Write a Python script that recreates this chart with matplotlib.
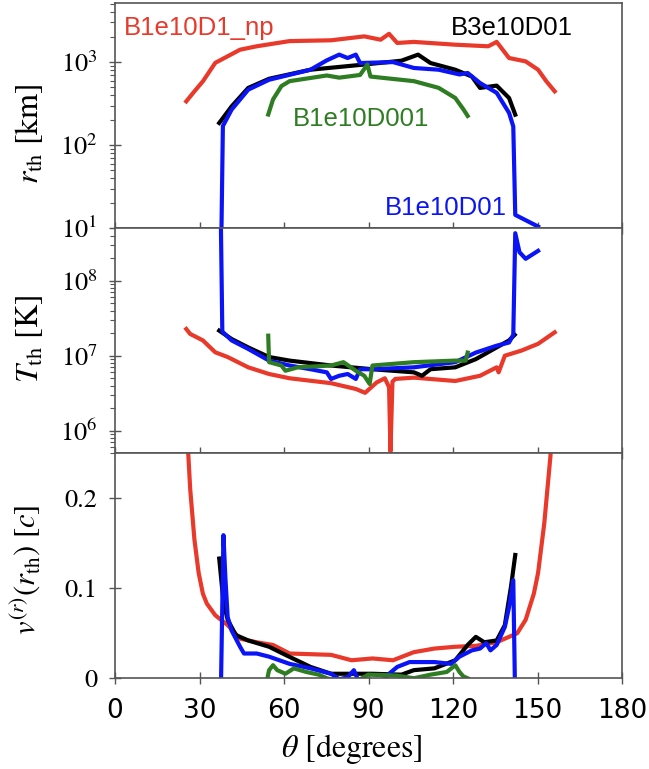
import matplotlib
matplotlib.use("Agg")
import matplotlib.pyplot as plt

# colours of the four runs
c_red = "#e8392b"
c_black = "#000000"
c_blue = "#0a14f5"
c_green = "#2e7d22"

# ---- r_th [km] ----
th_red_r = [25.3, 28.2, 31.2, 35.6, 40.0, 44.4, 50.3, 62.0, 76.7, 88.5, 94.3, 97.3,
            100.2, 106.1, 120.8, 132.5, 135.5, 139.9, 145.8, 150.2, 153.1, 156.1]
r_red = [337, 445, 587, 980, 1175, 1410, 1550, 1790, 1830, 2040, 1860, 2190,
         1700, 1750, 1620, 1550, 1750, 1120, 1020, 810, 590, 445]

th_black_r = [37.0, 41.4, 47.3, 54.7, 69.4, 88.5, 101.7, 107.6, 112.0, 120.8,
              126.7, 129.6, 135.5, 139.9, 142.1]
r_black = [185, 293, 489, 630, 810, 935, 1040, 1230, 975, 810,
           670, 489, 521, 370, 233]

th_blue_r = [37.4, 38.3, 41.4, 47.3, 54.7, 69.4, 75.2, 79.6, 82.6, 85.5, 87.0,
             98.7, 106.1, 114.9, 122.3, 125.2, 129.6, 135.5, 139.9, 141.4,
             142.1, 150.2]
r_blue = [1.0, 170, 268, 466, 613, 810, 1050, 1230, 1120, 1230, 975,
          1000, 850, 810, 710, 740, 560, 427, 245, 168,
          14.5, 10.5]

th_green_r = [54.4, 56.1, 59.1, 62.0, 75.2, 79.6, 87.0, 89.6, 90.7, 106.1,
              114.9, 120.8, 123.7, 125.2]
r_green = [234, 355, 515, 590, 690, 650, 700, 935, 670, 590,
           490, 370, 270, 225]

# ---- T_th [K] ----
th_red_T = [25.3, 26.7, 31.2, 35.6, 40.0, 47.3, 54.7, 62.0, 76.7, 85.5, 88.8,
            92.9, 95.8, 97.3, 97.8, 98.5, 99.5, 106.1, 120.8, 129.6, 135.5,
            136.2, 138.4, 144.3, 150.2, 156.1]
T_red = [2.27e7, 1.95e7, 1.6e7, 1.11e7, 9.6e6, 7.0e6, 5.7e6, 5.0e6, 4.3e6,
         3.6e6, 3.2e6, 4.4e6, 5.0e6, 3.8e6, 5.3e5, 4.5e6, 4.9e6, 5.1e6, 4.6e6,
         5.4e6, 7.0e6, 6.0e6, 1.0e7, 1.17e7, 1.44e7, 2.05e7]

th_black_T = [37.0, 41.4, 47.3, 54.7, 62.0, 76.7, 91.4, 106.1, 109.0, 112.0,
              120.8, 128.1, 135.5, 139.9, 141.9]
T_black = [2.16e7, 1.67e7, 1.29e7, 9.6e6, 8.6e6, 7.4e6, 6.6e6, 6.0e6, 5.4e6,
           6.6e6, 7.0e6, 9.0e6, 1.29e7, 1.6e7, 1.9e7]

th_blue_T = [37.4, 38.1, 41.4, 47.3, 54.7, 62.0, 69.4, 75.2, 76.7, 79.6, 82.6,
             85.5, 87.0, 91.4, 106.1, 120.8, 128.1, 135.5, 139.9, 141.4, 142.1,
             143.6, 145.8, 150.2]
T_blue = [2e9, 2.1e7, 1.6e7, 1.23e7, 8.6e6, 7.4e6, 6.6e6, 6.0e6, 4.9e6, 5.4e6,
          5.7e6, 4.9e6, 6.6e6, 6.6e6, 7.0e6, 8.2e6, 1.1e7, 1.36e7, 1.5e7,
          1.9e7, 4.3e8, 2.4e8, 1.96e8, 2.5e8]

th_green_T = [54.4, 54.7, 59.1, 60.5, 64.9, 76.7, 81.1, 85.5, 88.5, 90.4, 91.4,
              106.1, 120.8, 124.5, 125.2]
T_green = [1.85e7, 8.2e6, 7.4e6, 6.3e6, 7.0e6, 7.4e6, 8.2e6, 6.3e6, 5.4e6,
           4.2e6, 7.4e6, 8.2e6, 8.6e6, 8.6e6, 1.1e7]

# ---- v^(r)(r_th) [c] ----
th_red_v = [25.3, 26.0, 26.7, 28.2, 29.7, 31.2, 32.6, 35.6, 40.0, 44.4, 50.3,
            56.1, 62.0, 76.7, 84.0, 91.4, 98.7, 106.1, 113.4, 120.8, 128.1,
            135.5, 142.8, 145.8, 148.7, 150.2, 152.4, 154.6, 156.1]
v_red = [0.35, 0.25, 0.21, 0.154, 0.117, 0.094, 0.083, 0.070, 0.059, 0.044,
         0.040, 0.037, 0.0275, 0.026, 0.020, 0.022, 0.020, 0.029, 0.033, 0.035,
         0.036, 0.040, 0.050, 0.065, 0.094, 0.117, 0.172, 0.247, 0.35]

th_black_v = [37.0, 38.5, 40.0, 42.9, 47.3, 54.7, 60.5, 69.4, 76.7, 91.4, 101.7,
              106.1, 113.4, 120.8, 125.2, 128.1, 131.1, 135.5, 138.4, 140.6, 142.1]
v_black = [0.133, 0.085, 0.065, 0.048, 0.042, 0.035, 0.026, 0.0126, 0.005,
           0.005, 0.004, 0.009, 0.011, 0.020, 0.037, 0.046, 0.040, 0.042,
           0.059, 0.102, 0.137]

th_blue_v = [37.4, 38.5, 39.2, 40.0, 41.4, 44.4, 45.8, 50.3, 54.7, 62.0, 69.4,
             76.7, 79.6, 82.6, 84.8, 86.3, 91.4, 95.8, 97.3, 100.2, 104.6,
             113.4, 119.3, 122.3, 126.7, 129.6, 131.8, 133.3, 135.5, 138.4,
             139.9, 141.4, 142.1, 150.2]
v_blue = [-0.05, 0.159, 0.111, 0.068, 0.053, 0.035, 0.0275, 0.0275, 0.024,
          0.016, 0.011, 0.005, -0.001, 0.001, 0.009, -0.002, -0.004, -0.001,
          0.005, 0.0126, 0.018, 0.018, 0.016, 0.024, 0.031, 0.033, 0.039,
          0.031, 0.037, 0.057, 0.079, 0.109, -0.03, -0.03]

th_green_v = [53.9, 54.7, 56.1, 57.6, 60.5, 63.5, 67.9, 72.3, 75.2, 80.0, 86.0,
              89.9, 100.0, 106.1, 112.0, 117.8, 120.8, 122.3, 123.7, 125.2]
v_green = [-0.003, 0.009, 0.0145, 0.009, 0.005, 0.011, 0.007, 0.004, 0.0,
           -0.004, -0.003, 0.004, 0.003, 0.0, 0.004, 0.007, 0.0145, 0.007,
           0.002, 0.0]

plt.rcParams["mathtext.fontset"] = "stix"
serif = "STIXGeneral"
lw = 3.0

fig, axes = plt.subplots(3, 1, sharex=True, figsize=(6.49, 7.69), dpi=100)
fig.subplots_adjust(left=0.1772, right=0.9584, bottom=0.118, top=0.9957, hspace=0)
ax_r, ax_T, ax_v = axes

for th, y, c in [(th_red_r, r_red, c_red), (th_black_r, r_black, c_black),
                 (th_blue_r, r_blue, c_blue), (th_green_r, r_green, c_green)]:
    ax_r.plot(th, y, color=c, lw=lw)
for th, y, c in [(th_red_T, T_red, c_red), (th_black_T, T_black, c_black),
                 (th_blue_T, T_blue, c_blue), (th_green_T, T_green, c_green)]:
    ax_T.plot(th, y, color=c, lw=lw)
for th, y, c in [(th_red_v, v_red, c_red), (th_black_v, v_black, c_black),
                 (th_blue_v, v_blue, c_blue), (th_green_v, v_green, c_green)]:
    ax_v.plot(th, y, color=c, lw=lw)

ax_r.set_yscale("log")
ax_r.set_ylim(10, 5.1e3)
ax_T.set_yscale("log")
ax_T.set_ylim(5e5, 5e8)
ax_v.set_ylim(0, 0.25)
ax_v.set_yticks([0, 0.1, 0.2])
ax_v.set_yticklabels(["0", "0.1", "0.2"])
ax_v.set_xlim(0, 180)
ax_v.set_xticks(range(0, 181, 30))

for ax in axes:
    for s in ax.spines.values():
        s.set_color("#555555")
        s.set_linewidth(1.2)
    ax.tick_params(which="major", direction="inout", length=9, width=1.0,
                   color="#555555", pad=8)
    ax.tick_params(which="minor", direction="out", length=3.5, width=0.8,
                   color="#555555")
    ax.tick_params(axis="y", labelsize=19)
    for lab in ax.get_yticklabels():
        lab.set_family(serif)
ax_v.tick_params(axis="x", labelsize=19, pad=10)
for lab in ax_v.get_xticklabels():
    lab.set_family("DejaVu Sans")

ax_r.set_ylabel(r"$r_{\rm th}$ [km]", fontsize=23, family=serif)
ax_T.set_ylabel(r"$T_{\rm th}$ [K]", fontsize=23, family=serif)
ax_v.set_ylabel(r"$v^{(r)}(r_{\rm th})$ [$c$]", fontsize=22, family=serif)
ax_v.set_xlabel(r"$\theta$ [degrees]", fontsize=23, family=serif)
ax_r.yaxis.set_label_coords(-0.138, 0.42)
ax_T.yaxis.set_label_coords(-0.138, 0.51)
ax_v.yaxis.set_label_coords(-0.142, 0.48)
ax_v.xaxis.set_label_coords(0.466, -0.24)

lab_kw = dict(transform=ax_r.transAxes, fontsize=18.5, family="Liberation Sans",
              ha="left", va="baseline")
ax_r.text(0.018, 0.86, "B1e10D1_np", color=c_red, **lab_kw)
ax_r.text(0.663, 0.86, "B3e10D01", color=c_black, **lab_kw)
ax_r.text(0.351, 0.456, "B1e10D001", color=c_green, **lab_kw)
ax_r.text(0.533, 0.06, "B1e10D01", color=c_blue, **lab_kw)

fig.savefig("out.png", dpi=100)
